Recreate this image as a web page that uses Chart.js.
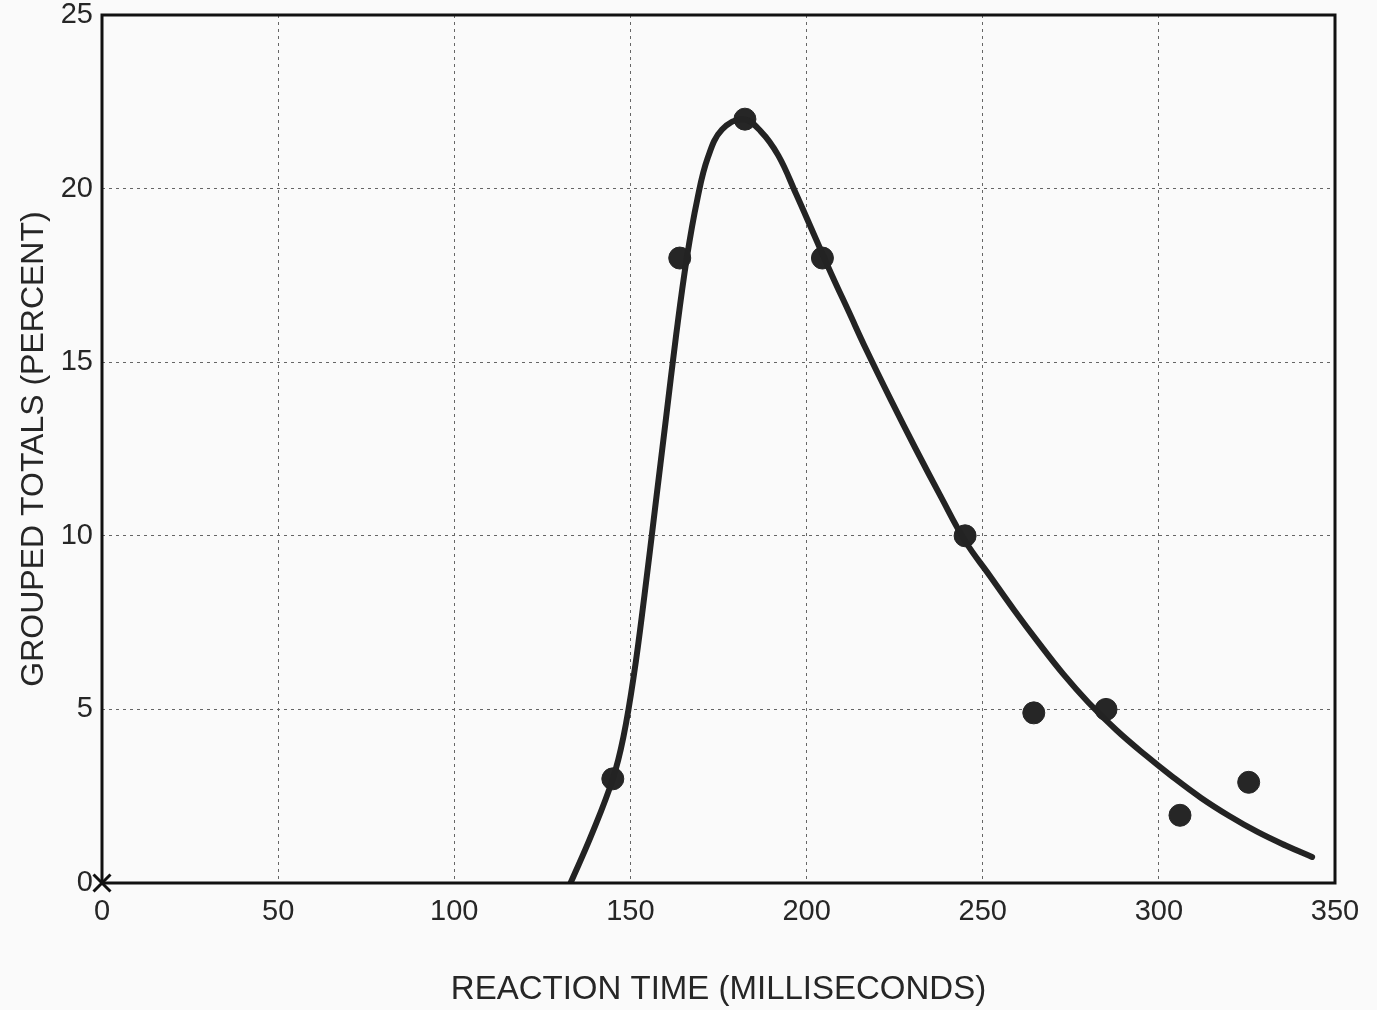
<!DOCTYPE html>
<html>
<head>
<meta charset="utf-8">
<script src="https://cdn.jsdelivr.net/npm/chart.js@4"></script>
<style>
  html, body { margin: 0; padding: 0; background: #fafafa; }
  #wrap { width: 1377px; height: 1010px; }
</style>
</head>
<body>
<div id="wrap"><canvas id="rt"></canvas></div>
<script>
// observed grouped totals
const pointX = [145, 164, 182.5, 204.5, 245, 264.5, 285, 306, 325.5];
const pointY = [3, 18, 22, 18, 10, 4.9, 5.0, 1.95, 2.9];

// fitted curve
const curveX = [133, 139, 145, 148, 151, 154, 157, 160, 163, 166, 169, 172, 176, 182, 187, 192, 197, 202, 207, 212, 217, 224, 231, 238, 245, 252, 259, 266, 273, 280, 288, 296, 304, 312, 320, 328, 336, 343.5];
const curveY = [0, 1.4, 3, 4.2, 6.0, 8.3, 10.8, 13.3, 15.8, 18.0, 19.7, 20.9, 21.7, 22, 21.65, 20.95, 19.85, 18.7, 17.55, 16.45, 15.35, 13.9, 12.5, 11.15, 9.85, 8.85, 7.85, 6.9, 6.0, 5.2, 4.4, 3.7, 3.05, 2.45, 1.93, 1.47, 1.08, 0.75];

const xTicks = [0, 50, 100, 150, 200, 250, 300, 350];
const yTicks = [0, 5, 10, 15, 20, 25];

const font = "'Liberation Sans', Arial, sans-serif";

const frame = {
    id: 'frame',
    afterDraw(chart) {
        const a = chart.chartArea;
        const ctx = chart.ctx;
        ctx.save();
        ctx.strokeStyle = '#111';
        ctx.lineWidth = 3;
        ctx.strokeRect(a.left, a.top, a.right - a.left, a.bottom - a.top);
        ctx.restore();
    }
};

function toXY(xs, ys) {
    return xs.map((x, i) => ({x: x, y: ys[i]}));
}

new Chart(document.getElementById('rt'), {
    data: {
        datasets: [
            {
                type: 'line',
                data: toXY(curveX, curveY),
                borderColor: '#232323',
                borderWidth: 6,
                pointRadius: 0,
                tension: 0.4,
                borderCapStyle: 'round',
                borderJoinStyle: 'round',
                fill: false,
            },
            {
                type: 'scatter',
                data: toXY(pointX, pointY),
                backgroundColor: '#262626',
                borderColor: '#262626',
                pointRadius: 11,
            },
            {
                type: 'scatter',
                data: [{x: 0, y: 0}],
                pointStyle: 'crossRot',
                borderColor: '#111',
                borderWidth: 3,
                pointRadius: 12,
                clip: false,
            },
        ],
    },
    options: {
        responsive: true,
        maintainAspectRatio: false,
        animation: false,
        layout: { padding: { top: 12, right: 42, left: 0, bottom: 0 } },
        plugins: {
            legend: { display: false },
            tooltip: { enabled: false },
        },
        scales: {
            x: {
                type: 'linear',
                min: 0,
                max: 350,
                afterFit: (s) => { s.height = 127; },
                afterBuildTicks: (s) => { s.ticks = xTicks.map(v => ({value: v})); },
                grid: { color: '#666', lineWidth: 1, drawTicks: false },
                border: { display: false, dash: [3, 4] },
                ticks: { color: '#262626', padding: 12, font: { family: font, size: 29 } },
                title: {
                    display: true,
                    text: 'REACTION TIME (MILLISECONDS)',
                    color: '#262626',
                    font: { family: font, size: 33 },
                    padding: { top: 20, bottom: 0 },
                },
            },
            y: {
                min: 0,
                max: 25,
                afterFit: (s) => { s.width = 102; s.paddingTop = 0; s.paddingBottom = 0; },
                afterBuildTicks: (s) => { s.ticks = yTicks.map(v => ({value: v})); },
                grid: { color: '#666', lineWidth: 1, drawTicks: false },
                border: { display: false, dash: [3, 4] },
                ticks: { color: '#262626', padding: 9, font: { family: font, size: 29 } },
                title: {
                    display: true,
                    text: 'GROUPED TOTALS (PERCENT)',
                    color: '#262626',
                    font: { family: font, size: 32 },
                    padding: { top: 15, bottom: 0 },
                },
            },
        },
    },
    plugins: [frame],
});
</script>
</body>
</html>
